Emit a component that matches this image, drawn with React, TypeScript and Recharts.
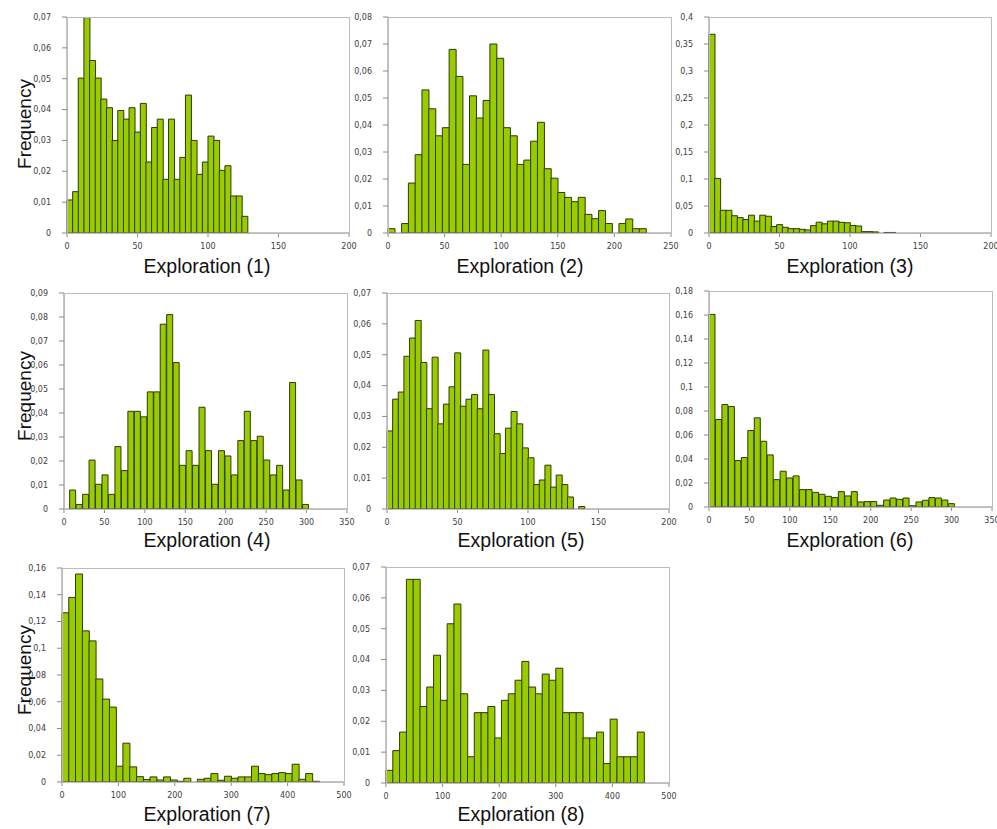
import { BarChart, Bar, XAxis, YAxis } from 'recharts'

// relative frequencies, one value per bin
const freq1 = [0.0107, 0.0134, 0.0502, 0.0698, 0.0559, 0.0502, 0.0434, 0.0406, 0.03, 0.0397, 0.0369, 0.0406, 0.0327, 0.042, 0.023, 0.0342, 0.0369, 0.0174, 0.0369, 0.0174, 0.0245, 0.0447, 0.03, 0.019, 0.023, 0.0314, 0.03, 0.0203, 0.0218, 0.012, 0.012, 0.0054]
const freq2 = [0.0016, 0, 0.0035, 0.0185, 0.029, 0.053, 0.046, 0.036, 0.039, 0.068, 0.058, 0.0254, 0.0508, 0.0426, 0.0491, 0.07, 0.0647, 0.039, 0.036, 0.0254, 0.027, 0.034, 0.041, 0.0238, 0.0203, 0.015, 0.0132, 0.0116, 0.0132, 0.0069, 0.0053, 0.0083, 0.0035, 0, 0.0035, 0.0052, 0.0016, 0.0016]
const freq3 = [0.368, 0.101, 0.042, 0.042, 0.032, 0.0285, 0.025, 0.033, 0.022, 0.033, 0.031, 0.012, 0.0155, 0.0105, 0.008, 0.008, 0.0068, 0.0056, 0.0136, 0.02, 0.017, 0.022, 0.022, 0.0198, 0.019, 0.014, 0.013, 0.0025, 0.0025, 0.002, 0, 0.001, 0.001]
const freq4 = [0.0079, 0.0019, 0.0061, 0.0204, 0.0103, 0.0142, 0.0061, 0.026, 0.016, 0.0407, 0.0407, 0.0384, 0.0488, 0.0488, 0.077, 0.081, 0.061, 0.0182, 0.0243, 0.0182, 0.0424, 0.0243, 0.0103, 0.0243, 0.0221, 0.0142, 0.0285, 0.0407, 0.0285, 0.0303, 0.0204, 0.0142, 0.0182, 0.0079, 0.0527, 0.0121, 0.0019]
const freq5 = [0.0253, 0.0356, 0.0379, 0.0495, 0.0554, 0.0611, 0.0475, 0.0325, 0.0492, 0.0276, 0.034, 0.0396, 0.0506, 0.0333, 0.0356, 0.0371, 0.0325, 0.0515, 0.0371, 0.0244, 0.018, 0.0262, 0.0316, 0.0276, 0.0198, 0.0166, 0.0079, 0.0094, 0.0142, 0.0071, 0.011, 0.0079, 0.0039, 0, 0.0008]
const freq6 = [0.1605, 0.0729, 0.0854, 0.0837, 0.0387, 0.0412, 0.0637, 0.0743, 0.0548, 0.0434, 0.0228, 0.0298, 0.0242, 0.0259, 0.0145, 0.0145, 0.0122, 0.0106, 0.0089, 0.0078, 0.0128, 0.0092, 0.0128, 0.0042, 0.0045, 0.0045, 0.0014, 0.0058, 0.0075, 0.0064, 0.0075, 0.0011, 0.0042, 0.0056, 0.0078, 0.0075, 0.0058, 0.0028]
const freq7 = [0.1265, 0.138, 0.1555, 0.113, 0.1055, 0.077, 0.062, 0.056, 0.0118, 0.029, 0.0113, 0.004, 0.0018, 0.0038, 0.0015, 0.0038, 0.0015, 0.0005, 0.0028, 0, 0.002, 0.0028, 0.0063, 0.0013, 0.0043, 0.0028, 0.0038, 0.0038, 0.0118, 0.0063, 0.0055, 0.0063, 0.007, 0.0063, 0.0133, 0.002, 0.0063, 0.0005]
const freq8 = [0.0041, 0.0105, 0.0165, 0.066, 0.066, 0.0248, 0.0311, 0.0414, 0.0268, 0.0516, 0.058, 0.0289, 0.0085, 0.0228, 0.0228, 0.0248, 0.0146, 0.0268, 0.0289, 0.0333, 0.0394, 0.0311, 0.0289, 0.0353, 0.0333, 0.0372, 0.0228, 0.0228, 0.0228, 0.0146, 0.0146, 0.0165, 0.0063, 0.0207, 0.0085, 0.0085, 0.0085, 0.0165]

// bin start and bin width (exploration units) for each histogram
const binStart = [0, 0, 0, 7, 0, 0, 0, 0]
const binWidth = [4, 6, 4, 8, 4, 8, 12, 12]

const xTicks200 = [0, 50, 100, 150, 200]
const xTicks250 = [0, 50, 100, 150, 200, 250]
const xTicks350 = [0, 50, 100, 150, 200, 250, 300, 350]
const xTicks500 = [0, 100, 200, 300, 400, 500]

const yTicks07 = [0, 0.01, 0.02, 0.03, 0.04, 0.05, 0.06, 0.07]
const yTicks08 = [0, 0.01, 0.02, 0.03, 0.04, 0.05, 0.06, 0.07, 0.08]
const yTicks09 = [0, 0.01, 0.02, 0.03, 0.04, 0.05, 0.06, 0.07, 0.08, 0.09]
const yTicks40 = [0, 0.05, 0.1, 0.15, 0.2, 0.25, 0.3, 0.35, 0.4]
const yTicks16 = [0, 0.02, 0.04, 0.06, 0.08, 0.1, 0.12, 0.14, 0.16]
const yTicks18 = [0, 0.02, 0.04, 0.06, 0.08, 0.1, 0.12, 0.14, 0.16, 0.18]

const titles = ['Exploration (1)', 'Exploration (2)', 'Exploration (3)', 'Exploration (4)', 'Exploration (5)', 'Exploration (6)', 'Exploration (7)', 'Exploration (8)']

const series = [freq1, freq2, freq3, freq4, freq5, freq6, freq7, freq8]
const xTickSets = [xTicks200, xTicks250, xTicks200, xTicks350, xTicks200, xTicks350, xTicks500, xTicks500]
const yTickSets = [yTicks07, yTicks08, yTicks40, yTicks09, yTicks07, yTicks18, yTicks16, yTicks07]

// plot area boxes and label centres, in page pixels
const boxes = [
  { left: 67, top: 17, w: 282, h: 216, lx: 207, ly: 266 },
  { left: 388, top: 17, w: 283, h: 216, lx: 520, ly: 266 },
  { left: 709, top: 17, w: 282, h: 216, lx: 850, ly: 266 },
  { left: 64, top: 293, w: 283, h: 216, lx: 207, ly: 540 },
  { left: 387, top: 293, w: 282, h: 216, lx: 521, ly: 540 },
  { left: 709, top: 291, w: 283, h: 216, lx: 850, ly: 540 },
  { left: 62, top: 568, w: 282, h: 214, lx: 207, ly: 814 },
  { left: 386, top: 567, w: 283, h: 216, lx: 521, ly: 814 },
]
const freqLabelY = [124, 396, 670]

const fmt = (v: number) => (v === 0 ? '0' : String(Number(v.toFixed(3))).replace('.', ','))

const tickStyle = { fontSize: 8, fill: '#404040', fontFamily: 'DejaVu Sans' }
const labelFont = '"Liberation Sans", Arial, sans-serif'

function Histogram({ i }: { i: number }) {
  const b = boxes[i]
  const xt = xTickSets[i]
  const yt = yTickSets[i]
  const data = series[i].map((f, k) => ({ x: binStart[i] + binWidth[i] * (k + 0.5), f }))

  return (
    <>
      <div style={{ position: 'absolute', left: b.left - 50, top: b.top - 8 }}>
        <BarChart
          width={b.w + 70}
          height={b.h + 32}
          data={data}
          margin={{ top: 8, right: 20, left: 0, bottom: 0 }}
          barCategoryGap={0}
          barGap={0}
        >
          <XAxis
            type="number"
            dataKey="x"
            domain={[0, xt[xt.length - 1]]}
            ticks={xt}
            interval={0}
            height={24}
            tickSize={4}
            tickMargin={6}
            stroke="#8a8a8a"
            tick={tickStyle}
          />
          <YAxis
            type="number"
            domain={[0, yt[yt.length - 1]]}
            ticks={yt}
            interval={0}
            width={50}
            tickSize={5}
            tickMargin={11}
            stroke="#8a8a8a"
            tick={tickStyle}
            tickFormatter={fmt}
          />
          <Bar dataKey="f" fill="#99cc00" stroke="#2e3a06" strokeWidth={1} isAnimationActive={false} />
        </BarChart>
      </div>
      <div
        style={{
          position: 'absolute', left: b.left, top: b.top, width: b.w + 1, height: b.h + 1,
          border: '1px solid #bcbcbc', boxSizing: 'border-box', pointerEvents: 'none',
        }}
      />
      <div
        style={{
          position: 'absolute', left: b.lx - 100, top: b.ly - 12, width: 200, textAlign: 'center',
          fontFamily: labelFont, fontSize: 19.5, lineHeight: '24px', color: '#111',
        }}
      >
        {titles[i]}
      </div>
    </>
  )
}

export default function App() {
  return (
    <div style={{ position: 'absolute', left: 0, top: 0, width: 997, height: 829, background: '#fff' }}>
      {series.map((_, i) => <Histogram key={i} i={i} />)}
      {freqLabelY.map((y, r) => (
        <div
          key={r}
          style={{
            position: 'absolute', left: 24.5 - 60, top: y - 12, width: 120, textAlign: 'center',
            transform: 'rotate(-90deg)', fontFamily: labelFont, fontSize: 19, lineHeight: '24px', color: '#111',
          }}
        >
          Frequency
        </div>
      ))}
    </div>
  )
}
